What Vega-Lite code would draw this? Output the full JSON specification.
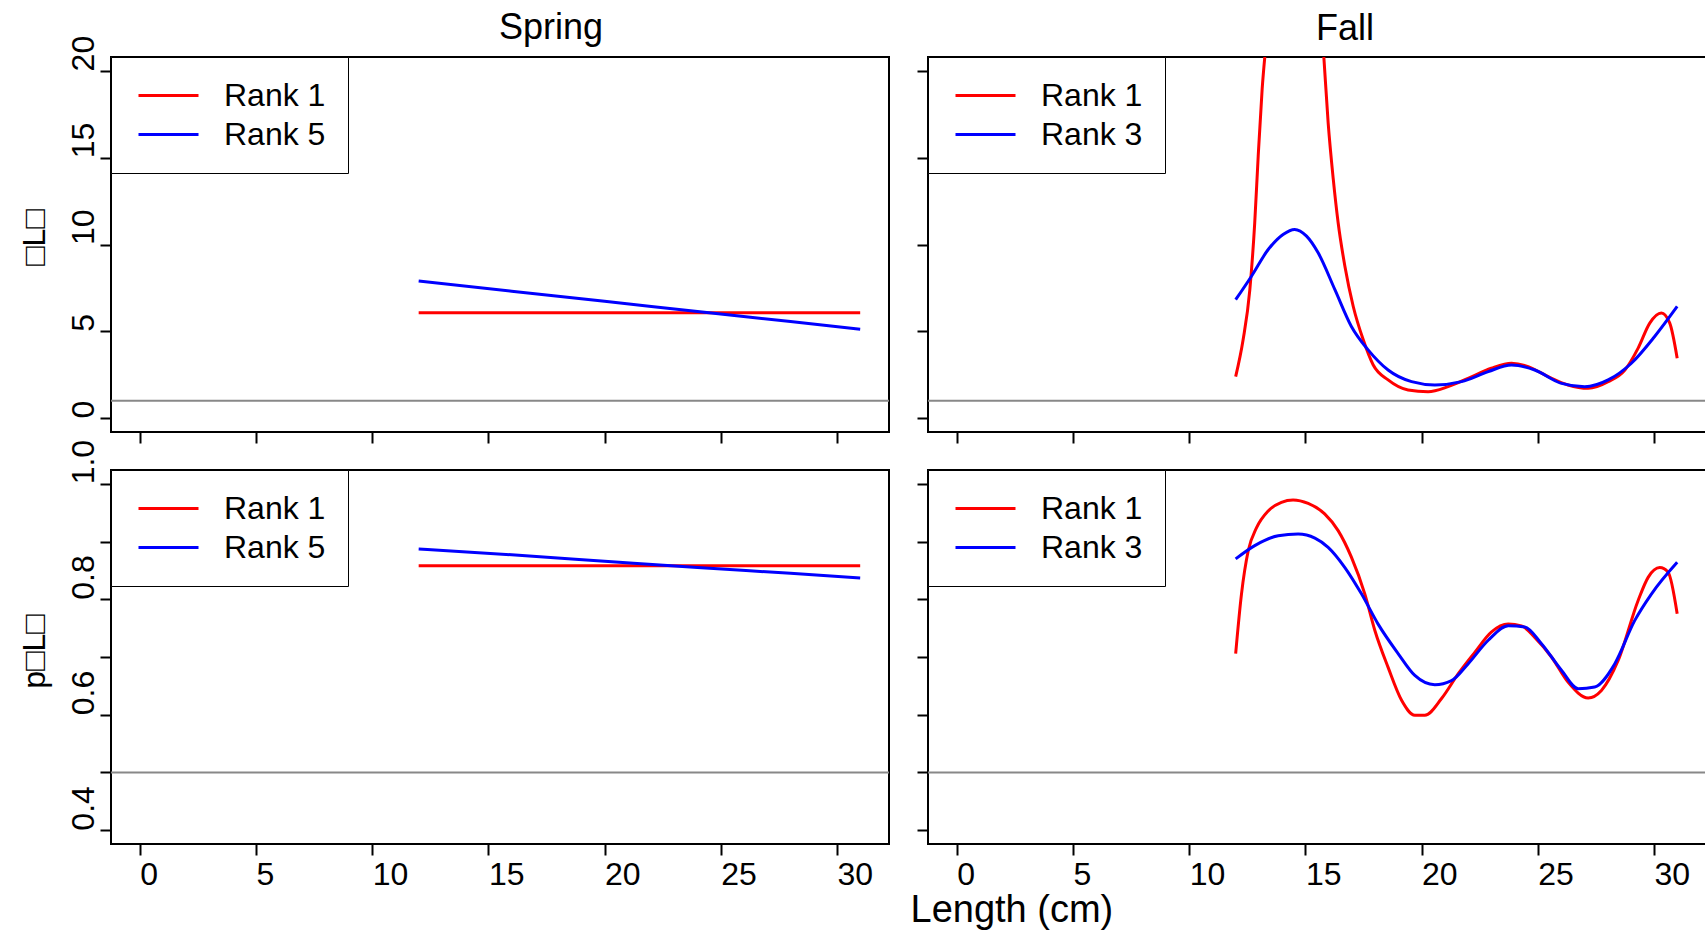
{
  "$schema": "https://vega.github.io/schema/vega-lite/v6.json",
  "autosize": {"type": "pad"},
  "padding": {"left": 17, "top": 9, "right": 0, "bottom": 0},
  "background": "white",
  "config": {
    "font": "Liberation Sans",
    "view": {"stroke": "black", "strokeWidth": 2},
    "axis": {
      "domain": false, "grid": false, "ticks": true, "tickSize": 11, "tickWidth": 2, "tickColor": "black",
      "labelFont": "Liberation Sans", "labelFontSize": 32, "labelColor": "black", "labelOverlap": false, "labelFlush": false,
      "titleFont": "Liberation Sans", "titleFontSize": 32, "titleFontWeight": "normal", "titleColor": "black"
    },
    "legend": {
      "orient": "top-left", "offset": 0, "title": null,
      "strokeColor": "black", "fillColor": "white", "padding": 22,
      "symbolType": "M-2,0H2", "symbolSize": 900, "symbolStrokeWidth": 3, "symbolOffset": 19,
      "labelFont": "Liberation Sans", "labelFontSize": 32, "labelColor": "black", "labelOffset": 39, "labelLimit": 0,
      "rowPadding": 6
    },
    "title": {"font": "Liberation Sans", "fontSize": 36, "fontWeight": "normal", "color": "black"}
  },
  "datasets": {
    "refs": [
      {"m": "phi", "y": 1},
      {"m": "p", "y": 0.5}
    ],
    "curves": [
      {"s": "Spring", "m": "phi", "r": "Rank 1", "x": 12, "y": 6.07},
      {"s": "Spring", "m": "phi", "r": "Rank 1", "x": 20, "y": 6.07},
      {"s": "Spring", "m": "phi", "r": "Rank 1", "x": 31, "y": 6.07},
      {"s": "Spring", "m": "phi", "r": "Rank 5", "x": 12, "y": 7.9},
      {"s": "Spring", "m": "phi", "r": "Rank 5", "x": 16, "y": 7.31},
      {"s": "Spring", "m": "phi", "r": "Rank 5", "x": 20, "y": 6.73},
      {"s": "Spring", "m": "phi", "r": "Rank 5", "x": 24, "y": 6.14},
      {"s": "Spring", "m": "phi", "r": "Rank 5", "x": 28, "y": 5.56},
      {"s": "Spring", "m": "phi", "r": "Rank 5", "x": 31, "y": 5.12},
      {"s": "Spring", "m": "p", "r": "Rank 1", "x": 12, "y": 0.858},
      {"s": "Spring", "m": "p", "r": "Rank 1", "x": 20, "y": 0.858},
      {"s": "Spring", "m": "p", "r": "Rank 1", "x": 31, "y": 0.858},
      {"s": "Spring", "m": "p", "r": "Rank 5", "x": 12, "y": 0.887},
      {"s": "Spring", "m": "p", "r": "Rank 5", "x": 16, "y": 0.877},
      {"s": "Spring", "m": "p", "r": "Rank 5", "x": 20, "y": 0.866},
      {"s": "Spring", "m": "p", "r": "Rank 5", "x": 24, "y": 0.855},
      {"s": "Spring", "m": "p", "r": "Rank 5", "x": 28, "y": 0.845},
      {"s": "Spring", "m": "p", "r": "Rank 5", "x": 31, "y": 0.837},

      {"s": "Fall", "m": "phi", "r": "Rank 1", "x": 12.0, "y": 2.39},
      {"s": "Fall", "m": "phi", "r": "Rank 1", "x": 12.32, "y": 4.51},
      {"s": "Fall", "m": "phi", "r": "Rank 1", "x": 12.61, "y": 7.4},
      {"s": "Fall", "m": "phi", "r": "Rank 1", "x": 12.82, "y": 11.25},
      {"s": "Fall", "m": "phi", "r": "Rank 1", "x": 12.97, "y": 15.1},
      {"s": "Fall", "m": "phi", "r": "Rank 1", "x": 13.14, "y": 18.96},
      {"s": "Fall", "m": "phi", "r": "Rank 1", "x": 13.3, "y": 21.5},
      {"s": "Fall", "m": "phi", "r": "Rank 1", "x": 13.6, "y": 26},
      {"s": "Fall", "m": "phi", "r": "Rank 1", "x": 14.0, "y": 30},
      {"s": "Fall", "m": "phi", "r": "Rank 1", "x": 14.5, "y": 32},
      {"s": "Fall", "m": "phi", "r": "Rank 1", "x": 15.0, "y": 31},
      {"s": "Fall", "m": "phi", "r": "Rank 1", "x": 15.4, "y": 27},
      {"s": "Fall", "m": "phi", "r": "Rank 1", "x": 15.77, "y": 21.3},
      {"s": "Fall", "m": "phi", "r": "Rank 1", "x": 15.98, "y": 17.0},
      {"s": "Fall", "m": "phi", "r": "Rank 1", "x": 16.2, "y": 13.76},
      {"s": "Fall", "m": "phi", "r": "Rank 1", "x": 16.41, "y": 11.25},
      {"s": "Fall", "m": "phi", "r": "Rank 1", "x": 16.7, "y": 8.75},
      {"s": "Fall", "m": "phi", "r": "Rank 1", "x": 17.06, "y": 6.43},
      {"s": "Fall", "m": "phi", "r": "Rank 1", "x": 17.49, "y": 4.51},
      {"s": "Fall", "m": "phi", "r": "Rank 1", "x": 17.92, "y": 3.06},
      {"s": "Fall", "m": "phi", "r": "Rank 1", "x": 18.56, "y": 2.2},
      {"s": "Fall", "m": "phi", "r": "Rank 1", "x": 19.42, "y": 1.62},
      {"s": "Fall", "m": "phi", "r": "Rank 1", "x": 20.28, "y": 1.52},
      {"s": "Fall", "m": "phi", "r": "Rank 1", "x": 21.14, "y": 1.81},
      {"s": "Fall", "m": "phi", "r": "Rank 1", "x": 22.0, "y": 2.29},
      {"s": "Fall", "m": "phi", "r": "Rank 1", "x": 23.0, "y": 2.87},
      {"s": "Fall", "m": "phi", "r": "Rank 1", "x": 23.87, "y": 3.16},
      {"s": "Fall", "m": "phi", "r": "Rank 1", "x": 24.59, "y": 2.97},
      {"s": "Fall", "m": "phi", "r": "Rank 1", "x": 25.45, "y": 2.39},
      {"s": "Fall", "m": "phi", "r": "Rank 1", "x": 26.3, "y": 1.91},
      {"s": "Fall", "m": "phi", "r": "Rank 1", "x": 27.17, "y": 1.72},
      {"s": "Fall", "m": "phi", "r": "Rank 1", "x": 28.03, "y": 2.1},
      {"s": "Fall", "m": "phi", "r": "Rank 1", "x": 28.75, "y": 2.77},
      {"s": "Fall", "m": "phi", "r": "Rank 1", "x": 29.32, "y": 4.03},
      {"s": "Fall", "m": "phi", "r": "Rank 1", "x": 29.82, "y": 5.47},
      {"s": "Fall", "m": "phi", "r": "Rank 1", "x": 30.32, "y": 6.05},
      {"s": "Fall", "m": "phi", "r": "Rank 1", "x": 30.68, "y": 5.47},
      {"s": "Fall", "m": "phi", "r": "Rank 1", "x": 31.0, "y": 3.45},

      {"s": "Fall", "m": "phi", "r": "Rank 3", "x": 12.0, "y": 6.82},
      {"s": "Fall", "m": "phi", "r": "Rank 3", "x": 12.68, "y": 8.17},
      {"s": "Fall", "m": "phi", "r": "Rank 3", "x": 13.4, "y": 9.71},
      {"s": "Fall", "m": "phi", "r": "Rank 3", "x": 14.04, "y": 10.58},
      {"s": "Fall", "m": "phi", "r": "Rank 3", "x": 14.54, "y": 10.87},
      {"s": "Fall", "m": "phi", "r": "Rank 3", "x": 15.05, "y": 10.48},
      {"s": "Fall", "m": "phi", "r": "Rank 3", "x": 15.55, "y": 9.52},
      {"s": "Fall", "m": "phi", "r": "Rank 3", "x": 16.27, "y": 7.4},
      {"s": "Fall", "m": "phi", "r": "Rank 3", "x": 16.98, "y": 5.28},
      {"s": "Fall", "m": "phi", "r": "Rank 3", "x": 17.7, "y": 3.93},
      {"s": "Fall", "m": "phi", "r": "Rank 3", "x": 18.56, "y": 2.77},
      {"s": "Fall", "m": "phi", "r": "Rank 3", "x": 19.57, "y": 2.1},
      {"s": "Fall", "m": "phi", "r": "Rank 3", "x": 20.57, "y": 1.91},
      {"s": "Fall", "m": "phi", "r": "Rank 3", "x": 21.72, "y": 2.1},
      {"s": "Fall", "m": "phi", "r": "Rank 3", "x": 22.87, "y": 2.68},
      {"s": "Fall", "m": "phi", "r": "Rank 3", "x": 23.87, "y": 3.06},
      {"s": "Fall", "m": "phi", "r": "Rank 3", "x": 24.87, "y": 2.77},
      {"s": "Fall", "m": "phi", "r": "Rank 3", "x": 26.02, "y": 2.0},
      {"s": "Fall", "m": "phi", "r": "Rank 3", "x": 27.02, "y": 1.81},
      {"s": "Fall", "m": "phi", "r": "Rank 3", "x": 28.03, "y": 2.2},
      {"s": "Fall", "m": "phi", "r": "Rank 3", "x": 29.03, "y": 3.16},
      {"s": "Fall", "m": "phi", "r": "Rank 3", "x": 30.03, "y": 4.7},
      {"s": "Fall", "m": "phi", "r": "Rank 3", "x": 31.0, "y": 6.43},

      {"s": "Fall", "m": "p", "r": "Rank 1", "x": 12.0, "y": 0.706},
      {"s": "Fall", "m": "p", "r": "Rank 1", "x": 12.25, "y": 0.809},
      {"s": "Fall", "m": "p", "r": "Rank 1", "x": 12.54, "y": 0.884},
      {"s": "Fall", "m": "p", "r": "Rank 1", "x": 12.9, "y": 0.924},
      {"s": "Fall", "m": "p", "r": "Rank 1", "x": 13.4, "y": 0.953},
      {"s": "Fall", "m": "p", "r": "Rank 1", "x": 13.97, "y": 0.968},
      {"s": "Fall", "m": "p", "r": "Rank 1", "x": 14.47, "y": 0.972},
      {"s": "Fall", "m": "p", "r": "Rank 1", "x": 15.12, "y": 0.966},
      {"s": "Fall", "m": "p", "r": "Rank 1", "x": 15.83, "y": 0.948},
      {"s": "Fall", "m": "p", "r": "Rank 1", "x": 16.41, "y": 0.919},
      {"s": "Fall", "m": "p", "r": "Rank 1", "x": 16.98, "y": 0.873},
      {"s": "Fall", "m": "p", "r": "Rank 1", "x": 17.56, "y": 0.809},
      {"s": "Fall", "m": "p", "r": "Rank 1", "x": 17.99, "y": 0.746},
      {"s": "Fall", "m": "p", "r": "Rank 1", "x": 18.56, "y": 0.682},
      {"s": "Fall", "m": "p", "r": "Rank 1", "x": 19.14, "y": 0.625},
      {"s": "Fall", "m": "p", "r": "Rank 1", "x": 19.71, "y": 0.599},
      {"s": "Fall", "m": "p", "r": "Rank 1", "x": 20.14, "y": 0.599},
      {"s": "Fall", "m": "p", "r": "Rank 1", "x": 20.86, "y": 0.628},
      {"s": "Fall", "m": "p", "r": "Rank 1", "x": 21.58, "y": 0.671},
      {"s": "Fall", "m": "p", "r": "Rank 1", "x": 22.29, "y": 0.708},
      {"s": "Fall", "m": "p", "r": "Rank 1", "x": 23.0, "y": 0.743},
      {"s": "Fall", "m": "p", "r": "Rank 1", "x": 23.73, "y": 0.757},
      {"s": "Fall", "m": "p", "r": "Rank 1", "x": 24.3, "y": 0.754},
      {"s": "Fall", "m": "p", "r": "Rank 1", "x": 24.87, "y": 0.734},
      {"s": "Fall", "m": "p", "r": "Rank 1", "x": 25.59, "y": 0.7},
      {"s": "Fall", "m": "p", "r": "Rank 1", "x": 26.31, "y": 0.656},
      {"s": "Fall", "m": "p", "r": "Rank 1", "x": 27.17, "y": 0.629},
      {"s": "Fall", "m": "p", "r": "Rank 1", "x": 27.74, "y": 0.642},
      {"s": "Fall", "m": "p", "r": "Rank 1", "x": 28.46, "y": 0.694},
      {"s": "Fall", "m": "p", "r": "Rank 1", "x": 29.32, "y": 0.798},
      {"s": "Fall", "m": "p", "r": "Rank 1", "x": 29.75, "y": 0.838},
      {"s": "Fall", "m": "p", "r": "Rank 1", "x": 30.25, "y": 0.855},
      {"s": "Fall", "m": "p", "r": "Rank 1", "x": 30.61, "y": 0.847},
      {"s": "Fall", "m": "p", "r": "Rank 1", "x": 31.0, "y": 0.775},

      {"s": "Fall", "m": "p", "r": "Rank 3", "x": 12.0, "y": 0.87},
      {"s": "Fall", "m": "p", "r": "Rank 3", "x": 12.82, "y": 0.893},
      {"s": "Fall", "m": "p", "r": "Rank 3", "x": 13.83, "y": 0.91},
      {"s": "Fall", "m": "p", "r": "Rank 3", "x": 14.69, "y": 0.913},
      {"s": "Fall", "m": "p", "r": "Rank 3", "x": 15.41, "y": 0.906},
      {"s": "Fall", "m": "p", "r": "Rank 3", "x": 15.98, "y": 0.89},
      {"s": "Fall", "m": "p", "r": "Rank 3", "x": 16.7, "y": 0.855},
      {"s": "Fall", "m": "p", "r": "Rank 3", "x": 17.42, "y": 0.809},
      {"s": "Fall", "m": "p", "r": "Rank 3", "x": 18.13, "y": 0.757},
      {"s": "Fall", "m": "p", "r": "Rank 3", "x": 18.99, "y": 0.706},
      {"s": "Fall", "m": "p", "r": "Rank 3", "x": 19.71, "y": 0.668},
      {"s": "Fall", "m": "p", "r": "Rank 3", "x": 20.57, "y": 0.652},
      {"s": "Fall", "m": "p", "r": "Rank 3", "x": 21.29, "y": 0.659},
      {"s": "Fall", "m": "p", "r": "Rank 3", "x": 22.0, "y": 0.688},
      {"s": "Fall", "m": "p", "r": "Rank 3", "x": 22.87, "y": 0.729},
      {"s": "Fall", "m": "p", "r": "Rank 3", "x": 23.73, "y": 0.754},
      {"s": "Fall", "m": "p", "r": "Rank 3", "x": 24.44, "y": 0.752},
      {"s": "Fall", "m": "p", "r": "Rank 3", "x": 25.16, "y": 0.723},
      {"s": "Fall", "m": "p", "r": "Rank 3", "x": 26.02, "y": 0.677},
      {"s": "Fall", "m": "p", "r": "Rank 3", "x": 26.74, "y": 0.645},
      {"s": "Fall", "m": "p", "r": "Rank 3", "x": 27.45, "y": 0.648},
      {"s": "Fall", "m": "p", "r": "Rank 3", "x": 28.31, "y": 0.688},
      {"s": "Fall", "m": "p", "r": "Rank 3", "x": 29.17, "y": 0.763},
      {"s": "Fall", "m": "p", "r": "Rank 3", "x": 29.89, "y": 0.809},
      {"s": "Fall", "m": "p", "r": "Rank 3", "x": 31.0, "y": 0.864}
    ]
  },
  "columns": 2,
  "bounds": "flush",
  "spacing": {"row": 38, "column": 39},
  "resolve": {"scale": {"color": "independent", "y": "independent", "x": "independent"}, "legend": {"color": "independent"}},
  "concat": [
    {
      "width": 778, "height": 375,
      "title": {"text": "Spring", "anchor": "start", "frame": "group", "dx": 388, "dy": 60, "baseline": "alphabetic", "offset": 20},
      "layer": [
        {
          "data": {"name": "refs"},
          "transform": [{"filter": "datum.m == 'phi'"}],
          "mark": {"type": "rule", "color": "#888888", "strokeWidth": 2},
          "encoding": {
            "y": {"field": "y", "type": "quantitative", "scale": {"domain": [-0.8, 20.8], "nice": false, "zero": false},
              "axis": {"values": [0, 5, 10, 15, 20], "title": "□L□", "titleX": -67, "titleY": 180, "titleAngle": -90, "titleAlign": "center", "titleBaseline": "alphabetic", "labelAngle": -90, "labelAlign": "left", "labelBaseline": "alphabetic", "labelPadding": 7}}
          }
        },
        {
          "data": {"name": "curves"},
          "transform": [{"filter": "datum.s == 'Spring' && datum.m == 'phi'"}],
          "mark": {"type": "line", "strokeWidth": 3, "clip": true, "interpolate": "monotone"},
          "encoding": {
            "x": {"field": "x", "type": "quantitative", "scale": {"domain": [-1.24, 32.24], "nice": false, "zero": false},
              "axis": {"values": [0, 5, 10, 15, 20, 25, 30], "labels": false, "title": null}},
            "y": {"field": "y", "type": "quantitative", "scale": {"domain": [-0.8, 20.8], "nice": false, "zero": false},
              "axis": {"values": [0, 5, 10, 15, 20], "title": "□L□", "titleX": -67, "titleY": 180, "titleAngle": -90, "titleAlign": "center", "titleBaseline": "alphabetic", "labelAngle": -90, "labelAlign": "left", "labelBaseline": "alphabetic", "labelPadding": 7}},
            "color": {"field": "r", "type": "nominal", "scale": {"domain": ["Rank 1", "Rank 5"], "range": ["#ff0000", "#0000ff"]}}
          }
        }
      ]
    },
    {
      "width": 778, "height": 375,
      "title": {"text": "Fall", "anchor": "start", "frame": "group", "dx": 388, "dy": 39, "baseline": "alphabetic", "offset": 20},
      "layer": [
        {
          "data": {"name": "refs"},
          "transform": [{"filter": "datum.m == 'phi'"}],
          "mark": {"type": "rule", "color": "#888888", "strokeWidth": 2},
          "encoding": {
            "y": {"field": "y", "type": "quantitative", "scale": {"domain": [-0.8, 20.8], "nice": false, "zero": false},
              "axis": {"values": [0, 5, 10, 15, 20], "labels": false, "title": null}}
          }
        },
        {
          "data": {"name": "curves"},
          "transform": [{"filter": "datum.s == 'Fall' && datum.m == 'phi'"}],
          "mark": {"type": "line", "strokeWidth": 3, "clip": true, "interpolate": "monotone"},
          "encoding": {
            "x": {"field": "x", "type": "quantitative", "scale": {"domain": [-1.24, 32.24], "nice": false, "zero": false},
              "axis": {"values": [0, 5, 10, 15, 20, 25, 30], "labels": false, "title": null}},
            "y": {"field": "y", "type": "quantitative", "scale": {"domain": [-0.8, 20.8], "nice": false, "zero": false},
              "axis": {"values": [0, 5, 10, 15, 20], "labels": false, "title": null}},
            "color": {"field": "r", "type": "nominal", "scale": {"domain": ["Rank 1", "Rank 3"], "range": ["#ff0000", "#0000ff"]}}
          }
        }
      ]
    },
    {
      "width": 778, "height": 374,
      "layer": [
        {
          "data": {"name": "refs"},
          "transform": [{"filter": "datum.m == 'p'"}],
          "mark": {"type": "rule", "color": "#888888", "strokeWidth": 2},
          "encoding": {
            "y": {"field": "y", "type": "quantitative", "scale": {"domain": [0.376, 1.024], "nice": false, "zero": false},
              "axis": {"values": [0.4, 0.5, 0.6, 0.7, 0.8, 0.9, 1.0], "labelExpr": "indexof(['0.4','0.6','0.8','1.0'], format(datum.value, '.1f')) >= 0 ? format(datum.value, '.1f') : ''", "title": "p□L□", "titleX": -67, "titleY": 181, "titleAngle": -90, "titleAlign": "center", "titleBaseline": "alphabetic", "labelAngle": -90, "labelAlign": "left", "labelBaseline": "alphabetic", "labelPadding": 7}}
          }
        },
        {
          "data": {"name": "curves"},
          "transform": [{"filter": "datum.s == 'Spring' && datum.m == 'p'"}],
          "mark": {"type": "line", "strokeWidth": 3, "clip": true, "interpolate": "monotone"},
          "encoding": {
            "x": {"field": "x", "type": "quantitative", "scale": {"domain": [-1.24, 32.24], "nice": false, "zero": false},
              "axis": {"values": [0, 5, 10, 15, 20, 25, 30], "title": null, "labelAlign": "left", "labelBaseline": "top", "labelPadding": 4, "labelAngle": 0}},
            "y": {"field": "y", "type": "quantitative", "scale": {"domain": [0.376, 1.024], "nice": false, "zero": false},
              "axis": {"values": [0.4, 0.5, 0.6, 0.7, 0.8, 0.9, 1.0], "labelExpr": "indexof(['0.4','0.6','0.8','1.0'], format(datum.value, '.1f')) >= 0 ? format(datum.value, '.1f') : ''", "title": "p□L□", "titleX": -67, "titleY": 181, "titleAngle": -90, "titleAlign": "center", "titleBaseline": "alphabetic", "labelAngle": -90, "labelAlign": "left", "labelBaseline": "alphabetic", "labelPadding": 7}},
            "color": {"field": "r", "type": "nominal", "scale": {"domain": ["Rank 1", "Rank 5"], "range": ["#ff0000", "#0000ff"]}}
          }
        }
      ]
    },
    {
      "width": 778, "height": 374,
      "layer": [
        {
          "data": {"name": "refs"},
          "transform": [{"filter": "datum.m == 'p'"}],
          "mark": {"type": "rule", "color": "#888888", "strokeWidth": 2},
          "encoding": {
            "y": {"field": "y", "type": "quantitative", "scale": {"domain": [0.376, 1.024], "nice": false, "zero": false},
              "axis": {"values": [0.4, 0.5, 0.6, 0.7, 0.8, 0.9, 1.0], "labels": false, "title": null}}
          }
        },
        {
          "data": {"name": "curves"},
          "transform": [{"filter": "datum.s == 'Fall' && datum.m == 'p'"}],
          "mark": {"type": "line", "strokeWidth": 3, "clip": true, "interpolate": "monotone"},
          "encoding": {
            "x": {"field": "x", "type": "quantitative", "scale": {"domain": [-1.24, 32.24], "nice": false, "zero": false},
              "axis": {"values": [0, 5, 10, 15, 20, 25, 30], "title": "Length (cm)", "titleFontSize": 38, "titleX": -18, "titleY": 77, "titleAlign": "left", "titleBaseline": "alphabetic", "labelAlign": "left", "labelBaseline": "top", "labelPadding": 4, "labelAngle": 0}},
            "y": {"field": "y", "type": "quantitative", "scale": {"domain": [0.376, 1.024], "nice": false, "zero": false},
              "axis": {"values": [0.4, 0.5, 0.6, 0.7, 0.8, 0.9, 1.0], "labels": false, "title": null}},
            "color": {"field": "r", "type": "nominal", "scale": {"domain": ["Rank 1", "Rank 3"], "range": ["#ff0000", "#0000ff"]}}
          }
        }
      ]
    }
  ]
}
